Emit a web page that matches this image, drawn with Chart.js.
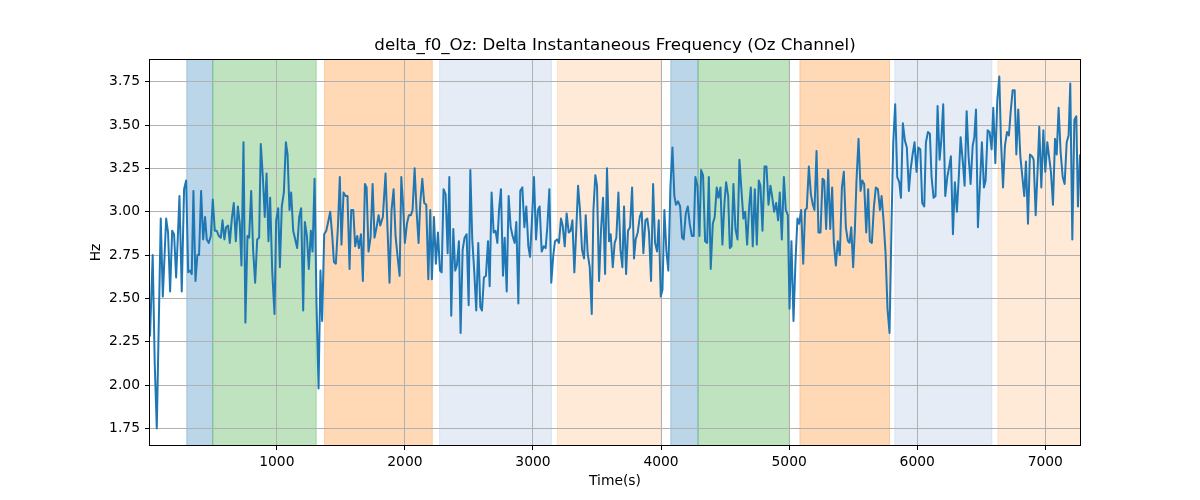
<!DOCTYPE html>
<html><head><meta charset="utf-8">
<script src="https://cdn.jsdelivr.net/npm/chart.js@4.4.0/dist/chart.umd.min.js"></script>
<style>html,body{margin:0;padding:0;background:#fff;}</style>
</head><body>
<canvas id="c" width="1200" height="500"></canvas>
<script>
const timeSec = [
10,31,47,63,94,110,136,151,167,183,198,214,227,240,258,276,292,308,323,336,349,365,380,393,409,425,440,453,469,485,500,516,531,547,563,576,591,604,620,633,649,664,680,696,711,724,740,755,771,784,800,815,831,847,862,875,891,906,
920,935,948,964,982,995,1011,1024,1039,1055,1071,1084,1099,1112,1128,1144,1159,1175,1190,1206,1219,1235,1250,1266,1279,1295,1310,1326,1341,1354,1370,1386,1401,1417,1433,1446,1461,1477,1492,1505,1521,1537,1552,1568,1581,1597,1612,1628,1641,1657,1672,1688,1701,1716,1732,1748,1763,1779,1795,1808,
1828,1849,1865,1880,1896,1912,1927,1943,1959,1972,1985,2000,2016,2031,2047,2060,2076,2091,2107,2120,2136,2151,2167,2183,2198,2211,2227,2242,2258,2274,2287,2302,2318,2334,2347,2362,2378,2393,2406,2422,2435,2451,2466,2482,2498,2511,2526,2542,2557,2573,2589,2602,2617,2633,2649,2662,2677,2693,2708,2722,
2735,2750,2766,2779,2795,2810,2826,2841,2857,2870,2886,2901,2917,2933,2948,2964,2977,2992,3008,3024,3039,3052,3068,3084,3099,3112,3128,3143,3159,3172,3188,3203,3219,3232,3248,3263,3279,3294,3308,3323,3339,3352,3367,3383,3399,3412,3427,3443,3459,3472,3487,3500,3516,3531,3547,3563,3578,3594,3607,3623,
3638,3651,3667,3683,3698,3711,3727,3742,3758,3774,3789,3802,3818,3834,3849,3862,3878,3893,3906,3922,3938,3953,3969,3982,3998,4011,4026,4042,4057,4073,4089,4104,4117,4133,4149,4164,4177,4193,4209,4224,4240,4255,4268,4284,4300,4313,4328,4344,4360,4373,4388,4404,4419,4435,4448,4464,4479,4495,4508,4524,
4537,4550,4565,4581,4597,4612,4628,4643,4657,4672,4688,4701,4716,4732,4748,4763,4776,4792,4808,4823,4839,4854,4867,4883,4899,4914,4927,4943,4959,4974,4990,5003,5018,5034,5050,5065,5078,5094,5110,5125,5138,5154,5170,5185,5198,5214,5229,5245,5261,5274,5289,5305,5321,5336,5349,5365,5380,5396,5412,5427,
5443,5459,5472,5485,5500,5513,5526,5542,5558,5571,5586,5602,5617,5630,5646,5662,5677,5693,5709,5722,5737,5753,5768,5784,5800,5813,5828,5844,5860,5873,5888,5904,5919,5935,5948,5964,5979,5995,6008,6024,6039,6055,6068,6084,6099,6112,6128,6143,6159,6175,6188,6203,6219,6235,6250,6263,6279,6294,6310,6326,6339,
6357,6370,6386,6401,6417,6433,6446,6459,6474,6490,6505,6521,6534,6550,6565,6581,6594,6610,6625,6641,6654,6670,6685,6701,6716,6729,6745,6761,6774,6789,6805,6821,6836,6849,6865,6880,6896,6909,6925,6940,6953,6969,6985,7000,7016,7029,7044,7060,7076,7089,7104,7120,7136,7151,7167,7182,7195,7211,7227,7242,7255,7271
];
const deltaF0 = [
2.28,2.75,2.12,1.75,2.96,2.51,2.96,2.88,2.54,2.89,2.87,2.62,2.85,3.09,2.54,3.13,3.18,2.65,2.66,2.64,3.12,2.60,2.75,2.75,3.12,2.84,2.97,2.84,2.82,2.86,3.07,2.89,2.89,2.86,2.85,2.95,2.84,2.91,2.92,2.82,2.96,3.05,2.83,3.03,2.93,2.69,3.40,2.36,2.86,2.85,3.12,2.78,2.59,2.84,2.85,3.39,3.20,2.97,
3.22,2.83,3.08,2.66,2.41,2.95,3.02,2.68,3.03,3.11,3.40,3.33,3.01,3.11,2.89,2.84,2.79,2.97,3.02,2.43,2.94,2.86,2.67,2.89,2.77,3.19,2.47,1.98,2.66,2.37,2.87,2.89,2.94,3.00,2.86,2.71,2.70,2.91,3.20,2.81,3.11,3.09,3.09,2.67,3.01,3.01,2.80,2.86,2.79,2.87,2.60,3.16,3.14,2.77,2.85,3.16,2.85,2.91,2.98,2.92,
2.97,3.22,2.89,2.59,3.01,3.13,2.86,2.74,2.63,3.20,3.05,2.82,2.93,2.98,2.98,3.01,3.25,3.01,2.82,3.05,3.19,3.05,3.04,2.61,3.01,2.61,2.97,2.70,2.88,2.66,2.65,3.13,3.10,2.76,3.20,2.40,2.90,2.66,2.69,2.83,2.30,2.78,2.85,2.87,2.46,3.24,2.84,2.65,2.43,2.82,2.45,2.43,2.62,2.63,2.83,2.57,3.11,2.88,2.89,2.82,
3.01,3.13,2.63,2.85,2.54,3.09,2.91,2.86,2.82,2.94,2.47,3.12,3.14,2.91,3.03,2.80,2.74,2.95,3.20,2.84,3.01,3.03,2.77,2.80,2.79,2.91,3.13,2.59,2.75,2.83,2.84,2.82,2.96,2.92,2.80,2.99,2.88,2.89,2.95,2.65,2.91,3.15,3.01,2.78,2.73,2.98,2.76,2.68,2.41,3.01,3.21,3.15,2.60,2.89,3.08,2.64,3.25,2.83,2.87,2.68,
2.82,2.85,3.11,2.78,2.68,3.03,2.64,2.89,2.91,3.14,2.73,2.84,2.88,2.97,3.00,2.76,2.95,2.96,2.88,2.60,3.16,2.82,2.77,2.95,2.51,2.55,3.01,2.77,2.66,3.14,3.37,3.09,3.04,3.06,3.03,2.85,2.84,2.99,3.03,2.93,2.86,2.86,3.20,3.15,2.86,3.24,3.21,2.83,2.82,3.20,2.67,2.93,2.97,3.14,3.08,3.14,2.81,3.05,3.17,3.09,
2.79,2.80,3.16,2.90,2.84,3.30,3.12,2.96,3.00,2.81,3.03,3.14,2.80,3.13,2.81,3.18,3.15,2.89,3.26,3.26,3.04,3.15,3.09,3.00,3.05,2.95,3.11,2.84,3.20,3.01,2.98,2.44,2.83,2.37,2.72,2.96,2.93,3.01,2.70,3.01,3.02,3.26,3.10,3.04,3.01,3.35,2.88,2.88,3.19,3.18,2.90,3.24,2.90,3.14,2.82,2.69,2.83,2.75,3.14,3.23,
2.91,2.83,2.82,2.91,2.68,2.89,3.18,3.42,3.12,3.18,3.16,2.88,3.13,2.83,2.82,3.03,3.14,3.13,3.01,3.09,2.95,2.76,2.44,2.30,2.95,3.40,3.62,3.20,3.17,3.08,3.51,3.41,3.37,3.12,3.24,3.33,3.40,3.23,3.37,3.36,3.05,3.03,3.40,3.46,3.45,3.20,3.08,3.09,3.61,3.30,3.41,3.62,3.09,3.20,3.26,3.32,2.87,3.17,3.00,3.22,3.43,
3.28,3.15,3.58,3.32,3.16,3.38,3.43,3.59,2.91,3.16,3.40,3.14,3.18,3.47,3.46,3.36,3.60,3.28,3.64,3.78,3.41,3.14,3.38,3.46,3.44,3.57,3.70,3.70,3.33,3.59,3.32,3.20,3.09,3.29,2.93,3.33,3.32,3.30,2.98,3.24,3.49,3.14,3.47,3.23,3.40,3.32,3.23,3.04,3.42,3.33,3.60,3.34,3.20,3.16,3.40,3.44,3.74,2.84,3.53,3.55,3.03,3.33
];
const xTicks = [1000, 2000, 3000, 4000, 5000, 6000, 7000];
const yTicks = [1.75, 2.00, 2.25, 2.50, 2.75, 3.00, 3.25, 3.50, 3.75];
const bandStarts = [297, 500, 1373, 2271, 3192, 4076, 4289, 5084, 5825, 6630];
const bandEnds   = [500, 1308, 2214, 3144, 3995, 4289, 5002, 5784, 6583, 7400];
const bandKinds  = ['blue', 'green', 'orange', 'lightblue', 'lightorange', 'blue', 'green', 'orange', 'lightblue', 'lightorange'];
const bandColors = {
  blue: 'rgba(31,119,180,0.3)',
  green: 'rgba(44,160,44,0.3)',
  orange: 'rgba(255,127,14,0.3)',
  lightblue: 'rgba(150,180,220,0.25)',
  lightorange: 'rgba(255,127,14,0.16)'
};

const points = timeSec.map((t, i) => ({x: t, y: deltaF0[i]}));
const FONT = 'DejaVu Sans';

const bandPlugin = {
  id: 'bands',
  beforeDraw(chart) {
    const {ctx, chartArea: a, scales: {x}} = chart;
    ctx.save();
    ctx.fillStyle = '#fff';
    ctx.fillRect(0, 0, chart.width, chart.height);
    ctx.beginPath();
    ctx.rect(a.left, a.top, a.right - a.left, a.bottom - a.top);
    ctx.clip();
    for (let i = 0; i < bandStarts.length; i++) {
      const x0 = x.getPixelForValue(bandStarts[i]);
      const x1 = x.getPixelForValue(bandEnds[i]);
      const col = bandColors[bandKinds[i]];
      ctx.fillStyle = col;
      ctx.fillRect(x0, a.top, x1 - x0, a.bottom - a.top);
      ctx.strokeStyle = col;
      ctx.lineWidth = 1;
      ctx.beginPath();
      ctx.moveTo(x0, a.top); ctx.lineTo(x0, a.bottom);
      ctx.moveTo(x1, a.top); ctx.lineTo(x1, a.bottom);
      ctx.stroke();
    }
    ctx.restore();
  },
  afterDatasetsDraw(chart) {
    const {ctx, chartArea: a} = chart;
    ctx.save();
    ctx.strokeStyle = '#000';
    ctx.lineWidth = 1;
    ctx.strokeRect(Math.round(a.left) - 0.5, Math.round(a.top) - 0.5,
                   Math.round(a.right - a.left) + 1, Math.round(a.bottom - a.top) + 1);
    ctx.restore();
  }
};

new Chart(document.getElementById('c'), {
  type: 'line',
  data: {
    datasets: [{
      data: points,
      borderColor: '#1f77b4',
      borderWidth: 2,
      pointRadius: 0,
      tension: 0,
      fill: false,
      borderJoinStyle: 'round'
    }]
  },
  options: {
    responsive: false,
    animation: false,
    devicePixelRatio: 1,
    layout: {padding: {left: 0, right: 120, top: 0, bottom: 0}},
    plugins: {
      legend: {display: false},
      tooltip: {enabled: false},
      title: {
        display: true,
        fullSize: false,
        text: 'delta_f0_Oz: Delta Instantaneous Frequency (Oz Channel)',
        color: '#000',
        font: {family: FONT, size: 16.67, weight: 'normal', lineHeight: 1.2},
        padding: {top: 36, bottom: 4}
      }
    },
    scales: {
      x: {
        type: 'linear',
        min: 10,
        max: 7271,
        afterFit: s => { s.height = 55; },
        afterBuildTicks: s => { s.ticks = xTicks.map(v => ({value: v})); },
        ticks: {color: '#000', font: {family: FONT, size: 13.89}, padding: 4, maxRotation: 0, autoSkip: false,
                callback: v => String(v)},
        grid: {color: '#b0b0b0', lineWidth: 1, tickColor: '#000', tickLength: 5, tickWidth: 1},
        border: {display: false},
        title: {display: true, text: 'Time(s)', color: '#000', font: {family: FONT, size: 13.89, lineHeight: 1.2},
                padding: {top: 0, bottom: 10.5}}
      },
      y: {
        type: 'linear',
        min: 1.654,
        max: 3.875,
        afterFit: s => { s.width = 150; },
        afterBuildTicks: s => { s.ticks = yTicks.map(v => ({value: v})); },
        ticks: {color: '#000', font: {family: FONT, size: 13.89}, padding: 5, autoSkip: false,
                callback: v => Number(v).toFixed(2)},
        grid: {color: '#b0b0b0', lineWidth: 1, tickColor: '#000', tickLength: 5, tickWidth: 1},
        border: {display: false},
        title: {display: true, text: 'Hz', color: '#000', font: {family: FONT, size: 13.89, lineHeight: 1.2},
                padding: {top: 88, bottom: 0}}
      }
    }
  },
  plugins: [bandPlugin]
});
</script>
</body></html>
